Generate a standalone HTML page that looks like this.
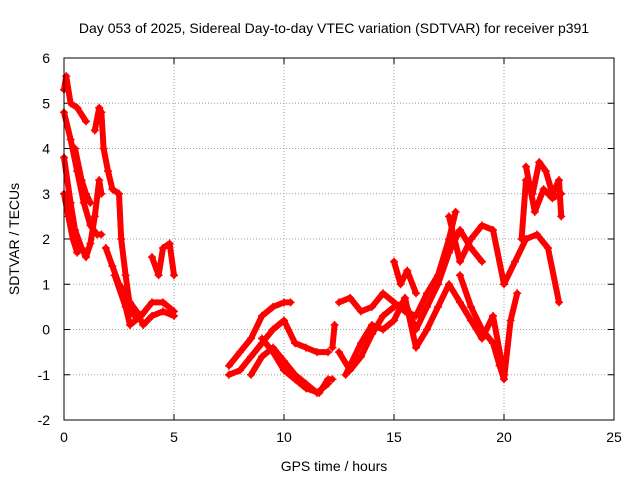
<!DOCTYPE html>
<html><head><meta charset="utf-8"><style>
body{margin:0;background:#fff}
svg{display:block;font-family:"Liberation Sans",sans-serif}
</style></head><body>
<svg id="chart" width="640" height="480">
<rect width="640" height="480" fill="#fff"/>
<text x="334" y="33" text-anchor="middle" font-size="14">Day 053 of 2025, Sidereal Day-to-day VTEC variation (SDTVAR) for receiver p391</text>
<text x="334" y="471" text-anchor="middle" font-size="14">GPS time / hours</text>
<text transform="translate(19,239) rotate(-90)" text-anchor="middle" font-size="14">SDTVAR / TECUs</text>
<g id="grid"></g><g id="ticks"></g><g id="series"></g>
<rect x="64" y="58" width="550" height="362" fill="none" stroke="#000" stroke-width="1"/>
</svg>
<script>
const xTicks=[0,5,10,15,20,25];
const yTicks=[-2,-1,0,1,2,3,4,5,6];
const tracks=[
[[0,5.3],[0.1,5.6],[0.3,5.0],[0.6,4.9],[1.0,4.6]],
[[0,4.8],[0.3,4.2],[0.6,3.5],[0.9,2.8],[1.2,2.3],[1.5,2.1],[1.7,2.1]],
[[0,3.8],[0.3,2.8],[0.5,2.2],[0.8,1.8],[1.0,1.6],[1.2,1.9],[1.4,2.5],[1.6,3.3],[1.7,3.0]],
[[0,3.0],[0.2,2.5],[0.4,2.0],[0.6,1.7]],
[[1.4,4.4],[1.6,4.9],[1.7,4.8],[1.8,4.0],[2.0,3.5],[2.2,3.1],[2.5,3.0],[2.6,2.0],[2.8,1.2],[3.0,0.5],[3.2,0.3]],
[[1.9,1.8],[2.2,1.4],[2.5,1.0],[2.8,0.8],[3.0,0.6],[3.3,0.4],[3.6,0.1],[4.0,0.3],[4.5,0.4],[5.0,0.3]],
[[2.3,1.2],[2.8,0.5],[3.0,0.1],[3.5,0.3],[4.0,0.6],[4.5,0.6],[5.0,0.4]],
[[4.0,1.6],[4.3,1.2],[4.5,1.8],[4.8,1.9],[5.0,1.2]],
[[0.5,4.0],[0.8,3.3],[1.0,3.0],[1.2,2.8]],
[[7.5,-0.8],[8,-0.5],[8.5,-0.2],[9,0.3],[9.5,0.5],[10,0.6],[10.3,0.6]],
[[7.5,-1.0],[8,-0.9],[8.5,-0.6],[9,-0.3],[9.5,0.0],[10,0.2],[10.5,-0.3],[11,-0.4],[11.5,-0.5],[12,-0.5]],
[[8.5,-1.0],[9,-0.6],[9.5,-0.4],[10,-0.7],[10.5,-1.0],[11,-1.2],[11.5,-1.4],[12,-1.2]],
[[9,-0.2],[9.5,-0.5],[10,-0.9],[10.5,-1.1],[11,-1.3],[11.6,-1.4],[12,-1.1],[12.2,-1.1]],
[[12.2,-0.4],[12.3,0.1]],
[[12.5,0.6],[13,0.7],[13.5,0.4],[14,0.5],[14.5,0.8],[15,0.6],[15.5,0.4],[16,0.3],[16.5,0.8],[17,1.2],[17.5,2.0],[17.8,2.6]],
[[12.5,-0.5],[13,-0.9],[13.5,-0.6],[14,-0.1],[14.5,0.3],[15,0.5],[15.5,0.6],[16,0.0],[16.5,0.5],[17,1.0],[17.5,1.7],[18,2.2],[18.5,1.8],[19,1.5]],
[[12.8,-1.0],[13.5,-0.3],[14,0.1],[14.5,0.0],[15,0.2],[15.5,0.7],[16,-0.4],[16.5,0.0],[17,0.5],[17.5,1.0],[18,0.6],[18.5,0.2],[19,-0.2],[19.5,0.3],[20,-1.0]],
[[15,1.5],[15.3,1.0],[15.6,1.3],[16,0.8]],
[[17.5,2.5],[18,1.5],[18.5,2.0],[19,2.3],[19.5,2.2],[20,1.0],[20.5,1.5],[21,2.0],[21.5,2.1],[22,1.8],[22.5,0.6]],
[[18,1.2],[18.5,0.5],[19,0.0],[19.5,-0.3],[19.8,-0.8],[20,-1.1],[20.3,0.2],[20.6,0.8]],
[[20.8,2.0],[21,3.3],[21.3,3.0],[21.6,3.7],[21.9,3.5],[22.2,3.0],[22.5,3.3],[22.6,2.5]],
[[21,3.6],[21.4,2.6],[21.8,3.1],[22.2,2.9],[22.6,3.0]]
];
const NS="http://www.w3.org/2000/svg";
const X0=64,X1=614,Y0=420,Y1=58;
function sx(v){return X0+(v-0)/(25-0)*(X1-X0);}
function sy(v){return Y0-(v+2)/(8)*(Y0-Y1);}
function mk(t,a,p){const e=document.createElementNS(NS,t);for(const k in a)e.setAttribute(k,a[k]);p.appendChild(e);return e;}
const grid=document.getElementById('grid'),ticks=document.getElementById('ticks'),ser=document.getElementById('series');
xTicks.forEach(v=>{
 const x=sx(v);
 if(v>0&&v<25){const g=mk('line',{x1:x,x2:x,y1:Y1,y2:Y0,stroke:'#a0a0a0','stroke-dasharray':'1,2'},grid);
 
 }
 mk('line',{x1:x,x2:x,y1:Y0,y2:Y0-6,stroke:'#000'},ticks);
 mk('line',{x1:x,x2:x,y1:Y1,y2:Y1+6,stroke:'#000'},ticks);
 const t=mk('text',{x:x,y:Y0+22,'text-anchor':'middle','font-size':14},ticks);t.textContent=v;
 
 
});
yTicks.forEach(v=>{
 const y=sy(v);
 if(v>-2&&v<6){const g=mk('line',{x1:X0,x2:X1,y1:y,y2:y,stroke:'#a0a0a0','stroke-dasharray':'1,2'},grid);
 
 }
 mk('line',{x1:X0,x2:X0+6,y1:y,y2:y,stroke:'#000'},ticks);
 mk('line',{x1:X1,x2:X1-6,y1:y,y2:y,stroke:'#000'},ticks);
 const t=mk('text',{x:X0-14,y:y+5,'text-anchor':'end','font-size':14},ticks);t.textContent=v;
 
 
});
tracks.forEach(tr=>{
 const pts=tr.map(p=>sx(p[0])+','+sy(p[1])).join(' ');
 const pl=mk('polyline',{points:pts,fill:'none',stroke:'#f00','stroke-width':6,'stroke-linejoin':'round','stroke-linecap':'round'},ser);
 
 
 tr.forEach(p=>{
  const x=sx(p[0]),y=sy(p[1]);
  const m=mk('path',{d:`M${x-4},${y}H${x+4}M${x},${y-4}V${y+4}`,stroke:'#f00','stroke-width':1.5},ser);
  
  
 });
});
</script>
</body></html>
